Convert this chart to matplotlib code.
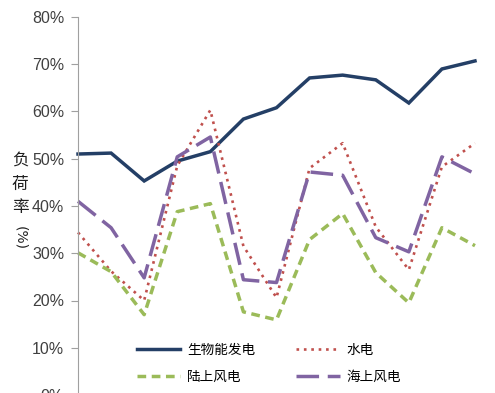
import matplotlib
matplotlib.use('Agg')
import matplotlib.pyplot as plt
import numpy as np

plt.rcParams['font.family'] = ['Noto Sans CJK SC', 'DejaVu Sans']

# 数据（负荷率，%）
months = list(range(13))
bio = [51.0, 51.2, 45.3, 49.5, 51.5, 58.4, 60.8, 67.1, 67.7, 66.7, 61.8, 69.0, 70.7]
hydro = [34.4, 26.2, 20.0, 48.5, 60.3, 31.5, 20.6, 48.0, 53.3, 35.6, 26.5, 48.3, 53.3]
onshore = [30.1, 26.1, 17.0, 38.8, 40.5, 17.6, 15.9, 32.9, 38.4, 25.9, 19.5, 35.4, 31.6]
offshore = [41.0, 35.4, 24.8, 50.4, 54.6, 24.4, 23.8, 47.2, 46.5, 33.3, 30.3, 50.4, 46.8]
names = ['生物能发电', '水电', '陆上风电', '海上风电']
yticks = [0, 10, 20, 30, 40, 50, 60, 70, 80]

fig = plt.figure(figsize=(4.95, 3.93), dpi=100)
ax = fig.add_axes([78/495, -2/393, (475-78)/495, 378/393])

l1, = ax.plot(months, bio, color='#243F66', lw=2.5, clip_on=False, solid_joinstyle='miter')
l2, = ax.plot(months, hydro, color='#C0504D', lw=1.9, dashes=(1, 1.8), clip_on=False)
l3, = ax.plot(months, onshore, color='#9BBB59', lw=2.5, dashes=(2.5, 1.6), clip_on=False)
l4, = ax.plot(months, offshore, color='#8064A2', lw=2.5, dashes=(6.5, 2.5), clip_on=False)

ax.set_xlim(0, 12)
ax.set_ylim(0, 80)
ax.set_yticks(yticks)
ax.set_yticklabels(['%d%%' % v for v in yticks], family=['Liberation Sans Narrow', 'Liberation Sans'],
                   fontsize=11.5, color='#404040')
ax.tick_params(axis='y', direction='out', length=5, color='#A0A0A0', pad=5)
ax.set_xticks([])
for s in ['top', 'right', 'bottom']:
    ax.spines[s].set_visible(False)
ax.spines['left'].set_color('#A0A0A0')

# 纵轴标题（竖排）
for ch, yy in [('负', 160), ('荷', 184), ('率', 208)]:
    fig.text(20/495, 1-yy/393, ch, ha='center', va='center', fontsize=12, color='#202020')
fig.text(20/495, 1-238/393, '(%)', ha='center', va='center', fontsize=10, color='#202020',
         rotation=270, family='DejaVu Sans')

leg = fig.legend([l1, l3, l2, l4], [names[0], names[2], names[1], names[3]],
                 ncol=2, frameon=False, loc='center', bbox_to_anchor=(269/495, 1-363.5/393),
                 fontsize=9.8, handlelength=3.2, handletextpad=0.5, columnspacing=3.0,
                 labelspacing=0.95)

fig.savefig('out.png', dpi=100)
